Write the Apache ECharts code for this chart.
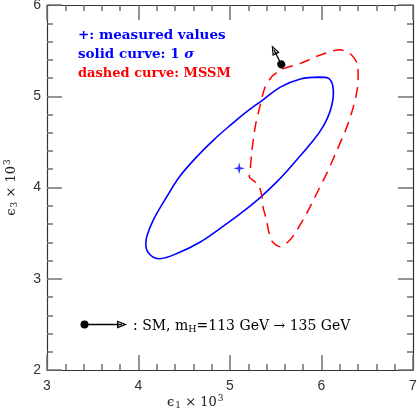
<!DOCTYPE html>
<html><head><meta charset="utf-8">
<script src="https://cdn.jsdelivr.net/npm/echarts@6/dist/echarts.min.js"></script>
<style>html,body{margin:0;padding:0;background:#fff}#c{width:417px;height:413px}</style>
</head><body><div id="c"></div>
<script>
// ---- data (epsilon1 x 10^3, epsilon3 x 10^3) ----
const xTicks = [3, 4, 5, 6, 7];
const yTicks = [2, 3, 4, 5, 6];
const measured = [[5.10, 4.21]];
const sigmaCurve = [
  [5.98,5.21],[5.77,5.19],[5.55,5.10],[5.36,4.96],[5.18,4.83],[5.00,4.68],[4.82,4.52],
  [4.64,4.34],[4.45,4.12],[4.31,3.90],[4.16,3.64],[4.09,3.46],[4.08,3.37],[4.13,3.26],
  [4.23,3.22],[4.45,3.29],[4.67,3.40],[4.89,3.55],[5.11,3.71],[5.33,3.89],[5.50,4.05],
  [5.64,4.20],[5.77,4.35],[5.88,4.48],[5.98,4.61],[6.06,4.75],[6.11,4.89],[6.13,5.03],
  [6.12,5.13],[6.07,5.20],[5.98,5.21]
];
const mssmCurve = [
  [5.57,5.30],[5.77,5.36],[5.98,5.45],[6.20,5.51],[6.31,5.47],[6.39,5.36],[6.40,5.21],
  [6.39,5.07],[6.35,4.89],[6.28,4.67],[6.17,4.41],[6.06,4.16],[5.95,3.94],[5.84,3.72],
  [5.73,3.53],[5.66,3.43],[5.55,3.35],[5.46,3.41],[5.42,3.53],[5.40,3.64],[5.36,3.79],
  [5.35,3.90],[5.31,4.03],[5.21,4.12],[5.22,4.19],[5.24,4.41],[5.28,4.69],[5.33,4.90],
  [5.38,5.09],[5.46,5.22],[5.57,5.30]
];
const smArrowPlot = [[5.56, 5.35], [5.48, 5.51]];
const smArrowKey = [[3.41, 2.50], [3.82, 2.50]];
const legendLines = ['+: measured values', 'solid curve: 1 ', 'dashed curve: MSSM'];

const hollowArrow = 'path://M5,0 L10,14 L0,14 Z M5,4.5 L2.3,12 L7.7,12 Z';
const star = 'path://M10,0 L12,8 L20,10 L12,12 L10,20 L8,12 L0,10 L8,8 Z';

const chart = echarts.init(document.getElementById('c'), null, {renderer: 'canvas'});
const axCol = '#333', tickCol = '#707070';
const nameRich = {
  a:{color:'#222', fontWeight:'normal', fontFamily:'DejaVu Serif', fontSize:13},
  s:{color:'#222', fontWeight:'normal', fontFamily:'DejaVu Serif', fontSize:9, padding:[6,0,0,1]},
  p:{color:'#222', fontWeight:'normal', fontFamily:'DejaVu Serif', fontSize:9, padding:[0,0,8,1]}
};
function ax(pos, lab, ticks, margin) {
  return {type:'value', position:pos, min:ticks[0], max:ticks[ticks.length-1], interval:1,
    axisLine:{show:true, onZero:false, lineStyle:{color:axCol, width:1.2}},
    axisTick:{show:true, inside:true, length:15, lineStyle:{color:tickCol, width:1.5}},
    minorTick:{show:true, splitNumber:5, length:6, lineStyle:{color:tickCol, width:1.5}},
    splitLine:{show:false},
    axisLabel:{show:lab, fontFamily:'Liberation Sans', fontSize:14, color:'#333', margin:margin}};
}
const yLeft = Object.assign(ax('left', true, yTicks, 6), {
  name:'{a|ϵ}{s|3}{a| × 10}{p|3}', nameLocation:'middle', nameRotate:90, nameGap:27,
  nameTextStyle:{rich:nameRich}
});
const arrowLine = (pts) => ({
  silent:true, animation:false,
  symbol:['circle', hollowArrow], symbolSize:[8, 10],
  lineStyle:{color:'#000', width:1.3, type:'solid'},
  label:{show:false},
  data:[[{coord:pts[0]},{coord:pts[1]}]]
});

chart.setOption({
  animation:false,
  grid:{left:47, top:5, right:4, bottom:43, containLabel:false, outerBoundsMode:'none'},
  xAxis:[ax('bottom', true, xTicks, 9), ax('top', false, xTicks, 9)],
  yAxis:[yLeft, ax('right', false, yTicks, 6)],
  title:[
    {text:legendLines[0], left:78, top:28, padding:0,
     textStyle:{color:'#0000ff', fontWeight:'bold', fontFamily:'DejaVu Serif', fontSize:13.5}},
    {text:'{a|'+legendLines[1]+'}{b|σ}', left:78, top:47, padding:0,
     textStyle:{rich:{
       a:{color:'#0000ff', fontWeight:'bold', fontFamily:'DejaVu Serif', fontSize:13.5},
       b:{color:'#0000ff', fontWeight:'bold', fontStyle:'italic', fontFamily:'DejaVu Serif', fontSize:13.5}}}},
    {text:legendLines[2], left:78, top:67, padding:0,
     textStyle:{color:'#ff0000', fontWeight:'bold', fontFamily:'DejaVu Serif', fontSize:13}},
    {text:'{a|: SM, m}{s|H}{a|=113 GeV → 135 GeV}', left:133, top:317, padding:0,
     textStyle:{fontWeight:'normal', rich:{
       a:{color:'#000', fontWeight:'normal', fontFamily:'DejaVu Serif', fontSize:14},
       s:{color:'#000', fontWeight:'normal', fontFamily:'DejaVu Serif', fontSize:9.5, padding:[8,0,0,0]}}}},
    {text:'{a|ϵ}{s|1}{a| × 10}{p|3}', left:167, top:394, padding:0,
     textStyle:{fontWeight:'normal', rich:nameRich}}
  ],
  series:[
    {type:'line', data:sigmaCurve, smooth:0.35, showSymbol:false, symbol:'none',
     lineStyle:{color:'#0000ff', width:1.6}},
    {type:'line', data:mssmCurve, smooth:0.25, showSymbol:false, symbol:'none',
     lineStyle:{color:'#ff0000', width:1.5, type:[11,7]}},
    {type:'scatter', data:measured, symbol:star, symbolSize:12,
     itemStyle:{color:'#0000ff'}},
    {type:'scatter', data:[], markLine:arrowLine(smArrowPlot)},
    {type:'scatter', data:[], markLine:arrowLine(smArrowKey)}
  ]
});
</script></body></html>
